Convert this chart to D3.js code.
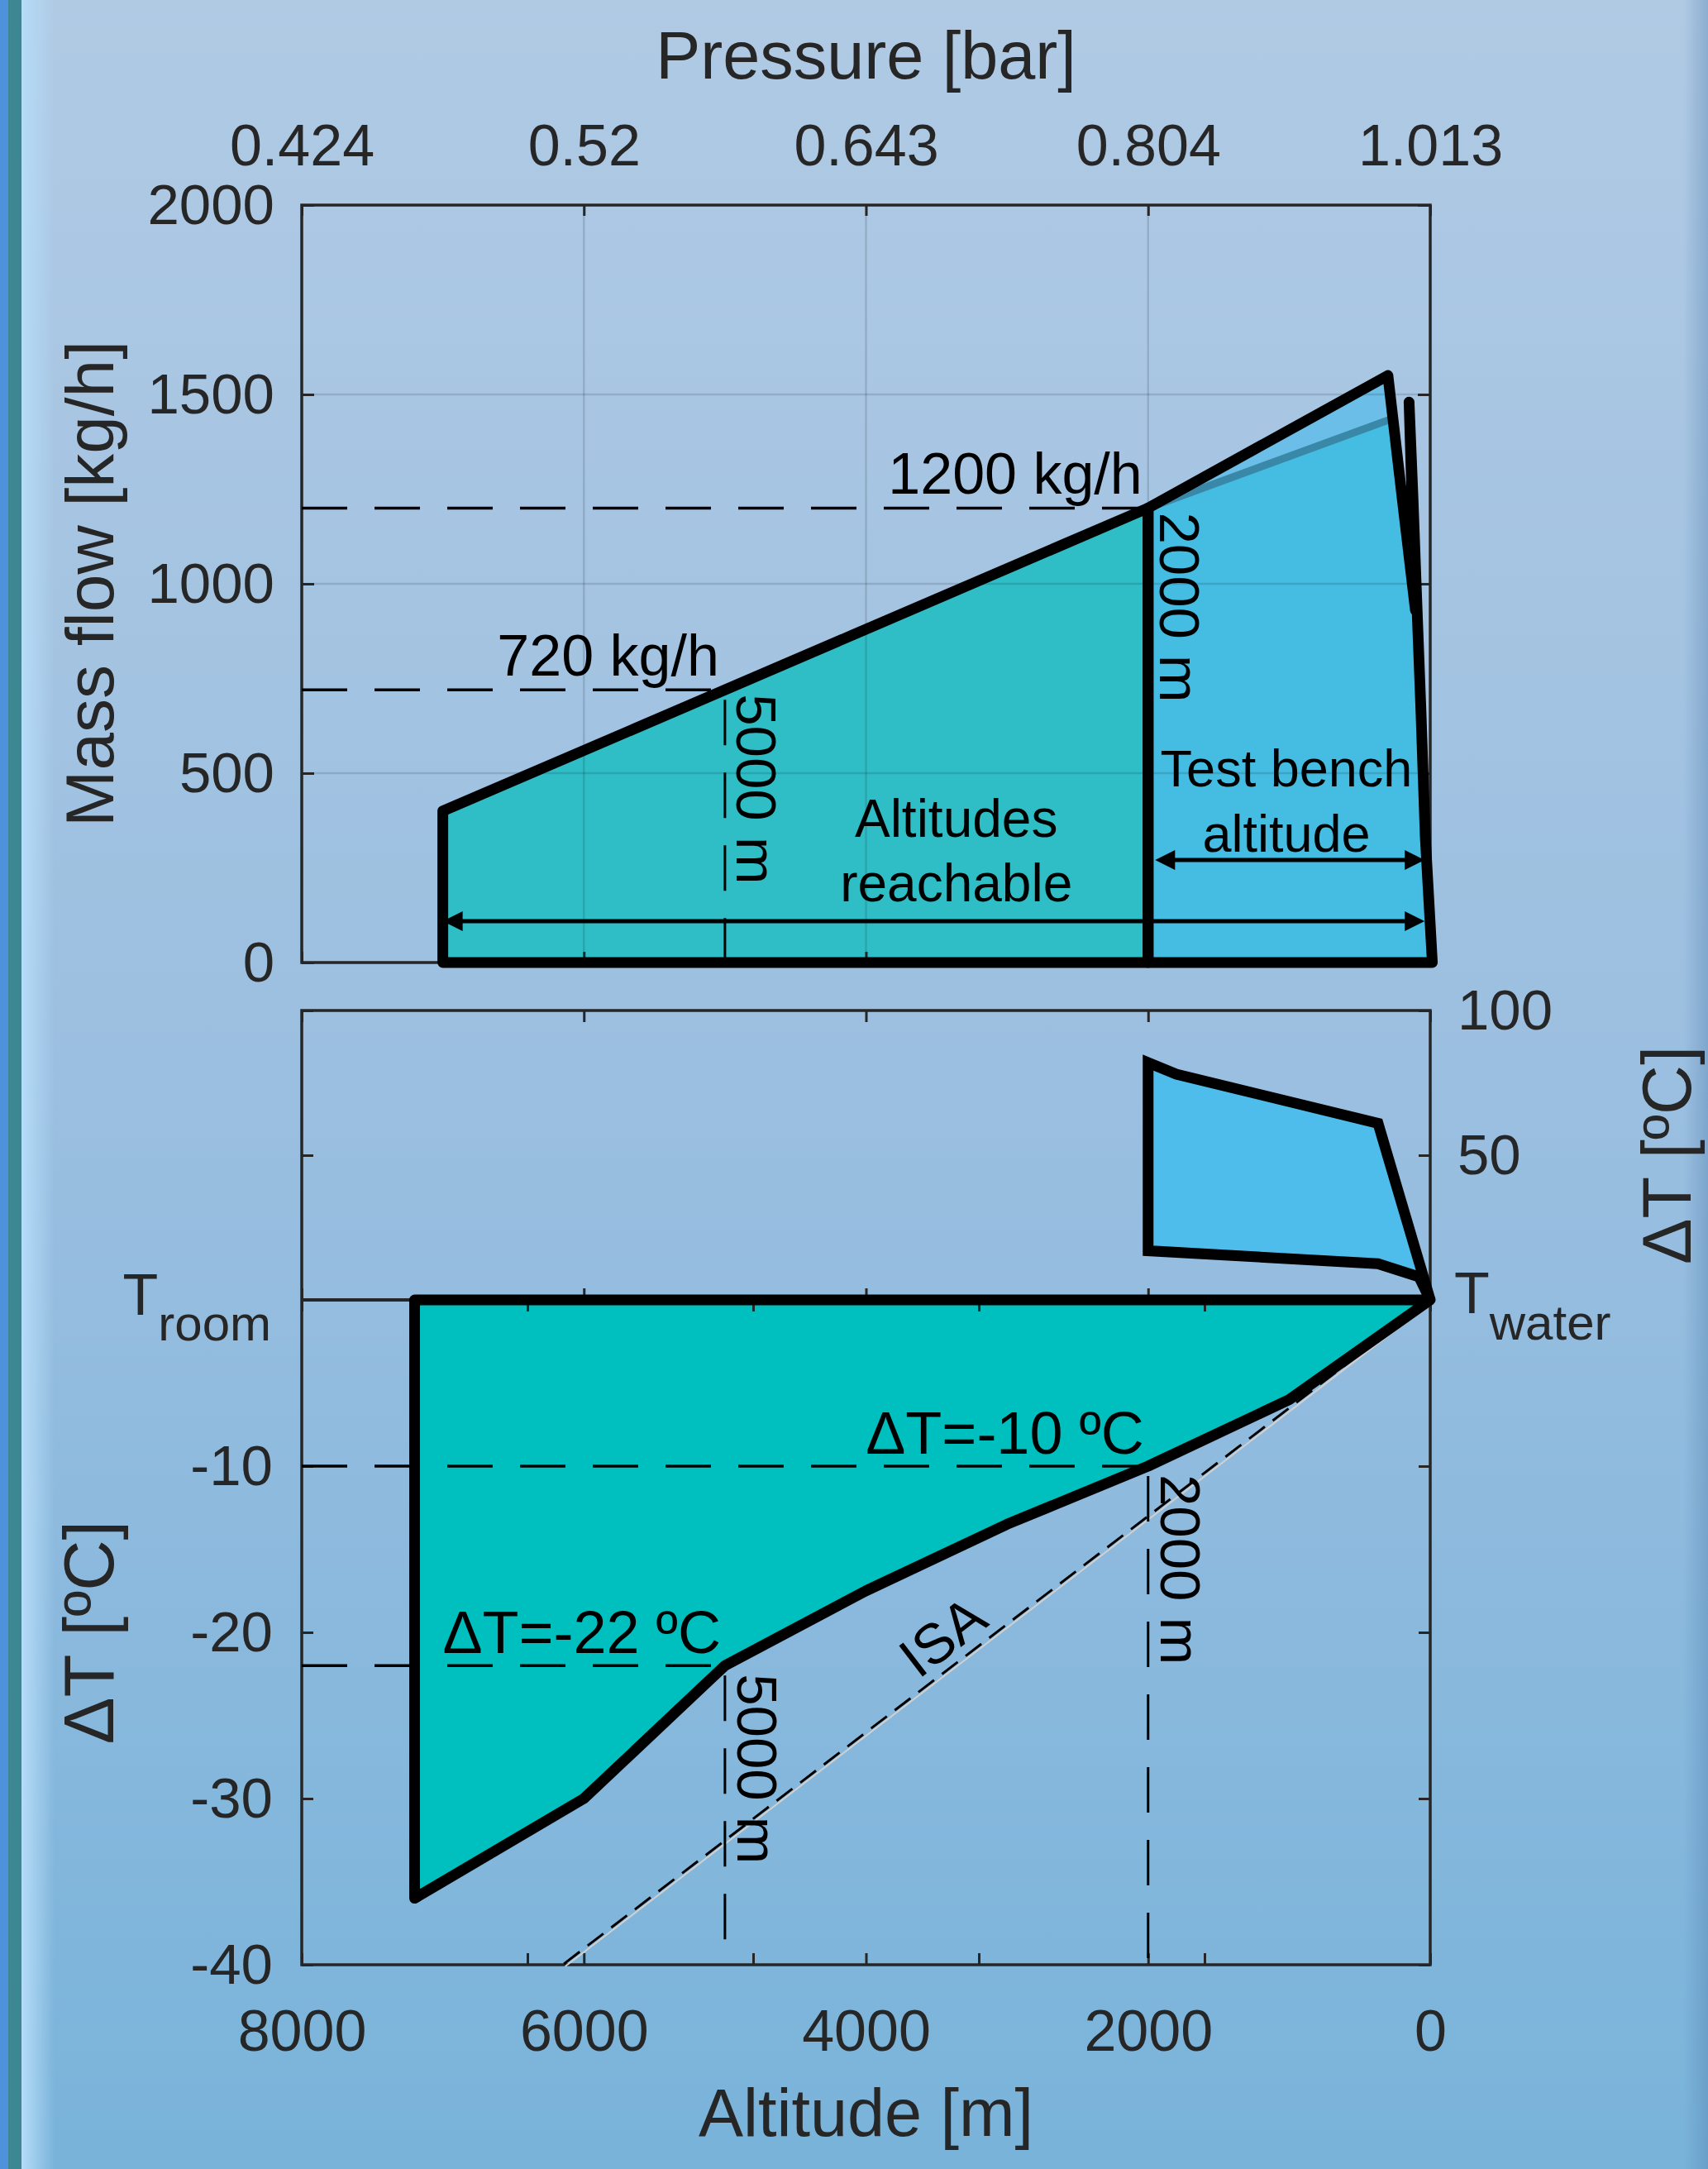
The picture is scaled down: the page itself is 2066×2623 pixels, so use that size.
<!DOCTYPE html>
<html><head><meta charset="utf-8">
<script src="https://cdn.jsdelivr.net/npm/d3@7"></script>
<style>
body{margin:0;background:#9fc1e1}
svg{display:block}
text{font-family:"Liberation Sans",Arial,Helvetica,sans-serif}
</style>
</head><body><script>
// Altitude axis shared by both panels, with the matching ISA pressure on top
const altitudeTicks = [8000, 6000, 4000, 2000, 0];
const pressureLabels = ["0.424", "0.52", "0.643", "0.804", "1.013"];
const altitudeMinorTicks = [8000, 6400, 4800, 3200, 1600, 0];
const flowTicks = [0, 500, 1000, 1500, 2000];
const heatTicks = [0, 50, 100];
const coolTicks = [0, -10, -20, -30, -40];

// Mass-flow envelopes: [altitude m, mass flow kg/h]
const reachableFlow = [[7000, 0], [7000, 400], [5000, 720], [2000, 1200], [2000, 0]];
const benchFlow = [[2000, 0], [2000, 1200], [300, 1550], [200, 1230], [105, 930], [150, 1480], [122, 1225],
                   [100, 1000], [66, 666], [35, 332], [-15, 0]];
const benchFlowShade = [[2000, 1200], [300, 1550], [285, 1434]];
const benchFlowEdge = [[2000, 1200], [285, 1434]];

// Temperature envelopes: [altitude m, ΔT °C]
const coolReach = [[7200, 0], [7200, -36], [6000, -30], [5000, -22], [4000, -17.5], [3000, -13.5],
                   [2000, -10], [1000, -6], [0, 0]];
const heatBench = [[2000, 82], [1800, 78], [370, 61], [0, 0], [80, 8], [370, 12.5], [2000, 17]];
const isaLine = [[0, 0], [6150, -40]];

// Reference markers
const flowMarks = [{alt: 5000, value: 720, label: "720 kg/h"}, {alt: 2000, value: 1200, label: "1200 kg/h"}];
const coolMarks = [{alt: 5000, value: -22, label: "ΔT=-22 ºC"}, {alt: 2000, value: -10, label: "ΔT=-10 ºC"}];
const markAltLabels = ["5000 m", "2000 m"];
const reachSpan = [7000, 40];
const benchSpan = [1950, 40];

const W = 2066, H = 2623;
const INK = "#262626";
const svg = d3.select("body").append("svg").attr("width", W).attr("height", H);
const defs = svg.append("defs");

// ---- background ----
const bg = defs.append("linearGradient").attr("id", "bg").attr("x1", 0).attr("y1", 0).attr("x2", 0).attr("y2", 1);
bg.append("stop").attr("offset", 0).attr("stop-color", "#b0cae4");
bg.append("stop").attr("offset", 0.5).attr("stop-color", "#9bbfe0");
bg.append("stop").attr("offset", 1).attr("stop-color", "#79b3da");
svg.append("rect").attr("width", W).attr("height", H).attr("fill", "url(#bg)");

const edgeL = defs.append("linearGradient").attr("id", "edgeL");
edgeL.append("stop").attr("offset", 0).attr("stop-color", "#b5dcf8").attr("stop-opacity", 1);
edgeL.append("stop").attr("offset", 1).attr("stop-color", "#b5dcf8").attr("stop-opacity", 0);
svg.append("rect").attr("x", 0).attr("width", 11).attr("height", H).attr("fill", "#4d92da");
svg.append("rect").attr("x", 10).attr("width", 16).attr("height", H).attr("fill", "#3c8791");
svg.append("rect").attr("x", 26).attr("width", 40).attr("height", H).attr("fill", "url(#edgeL)");

const edgeR = defs.append("linearGradient").attr("id", "edgeR");
edgeR.append("stop").attr("offset", 0).attr("stop-color", "#4a78a8").attr("stop-opacity", 0);
edgeR.append("stop").attr("offset", 1).attr("stop-color", "#4a78a8").attr("stop-opacity", 0.35);
svg.append("rect").attr("x", 2036).attr("width", 30).attr("height", H).attr("fill", "url(#edgeR)");

// ---- scales ----
const x = d3.scaleLinear().domain([8000, 0]).range([365, 1730]);
const yFlow = d3.scaleLinear().domain([0, 2000]).range([1164, 248]);
const yHeat = d3.scaleLinear().domain([0, 100]).range([1572, 1222]);
const yCool = d3.scaleLinear().domain([0, -40]).range([1572, 2376]);

const poly = (ys) => d3.line().x(d => x(d[0])).y(d => ys(d[1])).curve(d3.curveLinearClosed);
const path = (ys) => d3.line().x(d => x(d[0])).y(d => ys(d[1]));

function styleAxis(g, size) {
  g.select(".domain").remove();
  g.selectAll(".tick line").attr("stroke", INK).attr("stroke-width", 3);
  g.selectAll(".tick text").attr("fill", INK).attr("font-size", size || 69)
    .attr("font-family", '"Liberation Sans",Arial,sans-serif');
  return g;
}
const noLabel = () => "";

// =================== upper panel: mass flow ===================
const flowPanel = svg.append("g");
flowPanel.append("path").datum(reachableFlow).attr("d", poly(yFlow)).attr("fill", "#2fbdc6");
flowPanel.append("path").datum(benchFlow).attr("d", poly(yFlow)).attr("fill", "#45bce2");
flowPanel.append("path").datum(benchFlowShade).attr("d", poly(yFlow)).attr("fill", "#6abee7");
flowPanel.append("path").datum(benchFlowEdge).attr("d", path(yFlow))
  .attr("fill", "none").attr("stroke", "#3a88a8").attr("stroke-width", 9);

// grid
flowPanel.append("g").selectAll("line").data(altitudeTicks.slice(1, -1)).join("line")
  .attr("x1", d => x(d)).attr("x2", d => x(d)).attr("y1", yFlow(2000)).attr("y2", yFlow(0))
  .attr("stroke", "rgba(20,30,40,0.15)").attr("stroke-width", 2.5);
flowPanel.append("g").selectAll("line").data(flowTicks.slice(1, -1)).join("line")
  .attr("x1", x(8000)).attr("x2", x(0)).attr("y1", d => yFlow(d)).attr("y2", d => yFlow(d))
  .attr("stroke", "rgba(20,30,40,0.15)").attr("stroke-width", 2.5);

// box + ticks
flowPanel.append("rect").attr("x", x(8000)).attr("y", yFlow(2000)).attr("width", x(0) - x(8000))
  .attr("height", yFlow(0) - yFlow(2000)).attr("fill", "none").attr("stroke", INK).attr("stroke-width", 3.5);
styleAxis(flowPanel.append("g").attr("transform", `translate(${x(8000)},0)`)
  .call(d3.axisLeft(yFlow).tickValues(flowTicks).tickSize(-15).tickPadding(33).tickFormat(d => String(d))));
styleAxis(flowPanel.append("g").attr("transform", `translate(${x(0)},0)`)
  .call(d3.axisRight(yFlow).tickValues(flowTicks).tickSize(-15).tickFormat(noLabel)));
styleAxis(flowPanel.append("g").attr("transform", `translate(0,${yFlow(2000)})`)
  .call(d3.axisTop(x).tickValues(altitudeTicks).tickSize(-13).tickPadding(48)
    .tickFormat((d, i) => pressureLabels[i])), 70);
styleAxis(flowPanel.append("g").attr("transform", `translate(0,${yFlow(0)})`)
  .call(d3.axisBottom(x).tickValues(altitudeTicks).tickSize(-13).tickFormat(noLabel)));

// reference dashes
const dash = "55,33";
flowMarks.forEach((m, i) => {
  flowPanel.append("line").attr("x1", x(8000)).attr("x2", x(m.alt)).attr("y1", yFlow(m.value)).attr("y2", yFlow(m.value))
    .attr("stroke", "#000").attr("stroke-width", 3.5).attr("stroke-dasharray", dash);
  if (m.alt !== 2000) {
    flowPanel.append("line").attr("x1", x(m.alt)).attr("x2", x(m.alt)).attr("y1", yFlow(m.value) + 12).attr("y2", yFlow(0))
      .attr("stroke", "#000").attr("stroke-width", 3).attr("stroke-dasharray", dash);
  }
  flowPanel.append("text").attr("x", x(m.alt) - 7).attr("y", yFlow(m.value) - 17).attr("text-anchor", "end")
    .attr("font-size", 70).attr("fill", "#000").text(m.label);
  flowPanel.append("text").attr("transform", `translate(${x(m.alt) + 14},${yFlow(m.value) + 5}) rotate(90)`)
    .attr("font-size", 69).attr("fill", "#000").text(markAltLabels[i]);
});

// outlines
flowPanel.append("path").datum(benchFlow).attr("d", poly(yFlow)).attr("fill", "none")
  .attr("stroke", "#000").attr("stroke-width", 13).attr("stroke-linejoin", "round");
flowPanel.append("path").datum(reachableFlow).attr("d", poly(yFlow)).attr("fill", "none")
  .attr("stroke", "#000").attr("stroke-width", 13).attr("stroke-linejoin", "round");

// span arrows
function arrowHead(g, xt, y, dir) {
  const L = 24, Hw = 12;
  g.append("path").attr("d", `M${xt},${y}L${xt - dir * L},${y - Hw}L${xt - dir * L},${y + Hw}Z`).attr("fill", "#000");
}
function spanArrow(g, span, y) {
  const x0 = x(span[0]), x1 = x(span[1]);
  g.append("line").attr("x1", x0 + 10).attr("x2", x1 - 10).attr("y1", y).attr("y2", y)
    .attr("stroke", "#000").attr("stroke-width", 5);
  arrowHead(g, x1, y, 1);
  arrowHead(g, x0, y, -1);
}
spanArrow(flowPanel, reachSpan, yFlow(109));
spanArrow(flowPanel, benchSpan, yFlow(271));

const tAlt = flowPanel.append("text").attr("text-anchor", "middle").attr("font-size", 64).attr("fill", "#000");
tAlt.append("tspan").attr("x", x(3360)).attr("y", 1012).text("Altitudes");
tAlt.append("tspan").attr("x", x(3360)).attr("y", 1090).text("reachable");
const tBench = flowPanel.append("text").attr("text-anchor", "middle").attr("font-size", 63).attr("fill", "#000");
tBench.append("tspan").attr("x", x(1020)).attr("y", 951).text("Test bench");
tBench.append("tspan").attr("x", x(1020)).attr("y", 1030).text("altitude");

// axis titles
svg.append("text").attr("x", (x(8000) + x(0)) / 2).attr("y", 95).attr("text-anchor", "middle")
  .attr("font-size", 81).attr("fill", INK).text("Pressure [bar]");
svg.append("text").attr("transform", `translate(137,${(yFlow(0) + yFlow(2000)) / 2}) rotate(-90)`)
  .attr("text-anchor", "middle").attr("font-size", 82).attr("fill", INK).text("Mass flow [kg/h]");

// =================== lower panel: temperature difference ===================
const tempPanel = svg.append("g");
tempPanel.append("path").datum(coolReach).attr("d", poly(yCool)).attr("fill", "#00bfbf");
tempPanel.append("path").datum(heatBench).attr("d", poly(yHeat)).attr("fill", "#4ebdec");

// box, zero line and ticks
tempPanel.append("rect").attr("x", x(8000)).attr("y", yHeat(100)).attr("width", x(0) - x(8000))
  .attr("height", yCool(-40) - yHeat(100)).attr("fill", "none").attr("stroke", INK).attr("stroke-width", 3.5);
tempPanel.append("line").attr("x1", x(8000)).attr("x2", x(0)).attr("y1", yCool(0)).attr("y2", yCool(0))
  .attr("stroke", INK).attr("stroke-width", 4);

styleAxis(tempPanel.append("g").attr("transform", `translate(0,${yHeat(100)})`)
  .call(d3.axisTop(x).tickValues(altitudeTicks).tickSize(-14).tickFormat(noLabel)));
styleAxis(tempPanel.append("g").attr("transform", `translate(0,${yCool(0)})`)
  .call(d3.axisBottom(x).tickValues(altitudeTicks).tickSize(-14).tickFormat(noLabel)));
styleAxis(tempPanel.append("g").attr("transform", `translate(0,${yCool(0)})`)
  .call(d3.axisTop(x).tickValues(altitudeMinorTicks).tickSize(-14).tickFormat(noLabel)));
styleAxis(tempPanel.append("g").attr("transform", `translate(0,${yCool(-40)})`)
  .call(d3.axisBottom(x).tickValues(altitudeMinorTicks).tickSize(-14).tickFormat(noLabel)));
styleAxis(tempPanel.append("g").attr("transform", `translate(0,${yCool(-40)})`)
  .call(d3.axisBottom(x).tickValues(altitudeTicks).tickSize(-14).tickPadding(54).tickFormat(d => String(d))), 70);

styleAxis(tempPanel.append("g").attr("transform", `translate(${x(8000)},0)`)
  .call(d3.axisLeft(yCool).tickValues(coolTicks).tickSize(-14).tickPadding(35)
    .tickFormat(d => d === 0 ? "" : String(d))), 69);
styleAxis(tempPanel.append("g").attr("transform", `translate(${x(8000)},0)`)
  .call(d3.axisLeft(yHeat).tickValues(heatTicks).tickSize(-14).tickFormat(noLabel)));
styleAxis(tempPanel.append("g").attr("transform", `translate(${x(0)},0)`)
  .call(d3.axisRight(yHeat).tickValues(heatTicks).tickSize(-14).tickPadding(33)
    .tickFormat(d => d === 0 ? "" : String(d))), 69);
styleAxis(tempPanel.append("g").attr("transform", `translate(${x(0)},0)`)
  .call(d3.axisRight(yCool).tickValues(coolTicks).tickSize(-14).tickFormat(noLabel)));

// reference temperatures
const tRoom = tempPanel.append("text").attr("x", 328).attr("y", yCool(0) + 18).attr("text-anchor", "end")
  .attr("font-size", 70).attr("fill", INK);
tRoom.append("tspan").text("T");
tRoom.append("tspan").attr("dy", 31).attr("font-size", 60).text("room");
const tWater = tempPanel.append("text").attr("x", 1759).attr("y", yHeat(0) + 16)
  .attr("font-size", 70).attr("fill", INK);
tWater.append("tspan").text("T");
tWater.append("tspan").attr("dy", 32).attr("font-size", 60).text("water");

// ISA lapse line
tempPanel.append("path").datum(isaLine).attr("d", path(yCool)).attr("transform", "translate(3,2)")
  .attr("fill", "none").attr("stroke", "#d0d0d0").attr("stroke-width", 2);
tempPanel.append("path").datum(isaLine).attr("d", path(yCool))
  .attr("fill", "none").attr("stroke", "#000").attr("stroke-width", 3).attr("stroke-dasharray", "24,12");
{
  const a = isaLine[0], b = isaLine[1];
  const ang = Math.atan2(yCool(a[1]) - yCool(b[1]), x(a[0]) - x(b[0]));
  const t = 3330 / b[0];
  const px = x(b[0] * t), py = yCool(b[1] * t);
  const nx = Math.sin(ang), ny = -Math.cos(ang);
  tempPanel.append("text").attr("transform", `translate(${px + 12 * nx},${py + 12 * ny}) rotate(${ang * 180 / Math.PI})`)
    .attr("text-anchor", "middle").attr("font-size", 68).attr("fill", "#000").text("ISA");
}

// reference dashes
coolMarks.forEach((m, i) => {
  tempPanel.append("line").attr("x1", x(8000)).attr("x2", x(m.alt)).attr("y1", yCool(m.value)).attr("y2", yCool(m.value))
    .attr("stroke", "#000").attr("stroke-width", 3.5).attr("stroke-dasharray", dash);
  tempPanel.append("line").attr("x1", x(m.alt)).attr("x2", x(m.alt)).attr("y1", yCool(m.value) + 12).attr("y2", yCool(-40))
    .attr("stroke", "#000").attr("stroke-width", 3).attr("stroke-dasharray", dash);
  tempPanel.append("text").attr("x", x(m.alt) - 5).attr("y", yCool(m.value) - 15).attr("text-anchor", "end")
    .attr("font-size", 72).attr("fill", "#000").text(m.label);
  tempPanel.append("text").attr("transform", `translate(${x(m.alt) + 15},${yCool(m.value) + 10}) rotate(90)`)
    .attr("font-size", 69).attr("fill", "#000").text(markAltLabels[i]);
});

// outlines
tempPanel.append("path").datum(coolReach).attr("d", poly(yCool)).attr("fill", "none")
  .attr("stroke", "#000").attr("stroke-width", 13).attr("stroke-linejoin", "round");
tempPanel.append("path").datum(heatBench).attr("d", poly(yHeat)).attr("fill", "none")
  .attr("stroke", "#000").attr("stroke-width", 13).attr("stroke-linejoin", "miter");

// axis titles
svg.append("text").attr("x", (x(8000) + x(0)) / 2).attr("y", 2583).attr("text-anchor", "middle")
  .attr("font-size", 81).attr("fill", INK).text("Altitude [m]");
svg.append("text").attr("transform", `translate(137,${(yCool(0) + yCool(-40)) / 2}) rotate(-90)`)
  .attr("text-anchor", "middle").attr("font-size", 85).attr("fill", INK).text("ΔT [ºC]");
svg.append("text").attr("transform", `translate(2045,${(yHeat(0) + yHeat(100)) / 2}) rotate(-90)`)
  .attr("text-anchor", "middle").attr("font-size", 83).attr("fill", INK).text("ΔT [ºC]");
</script></body></html>
